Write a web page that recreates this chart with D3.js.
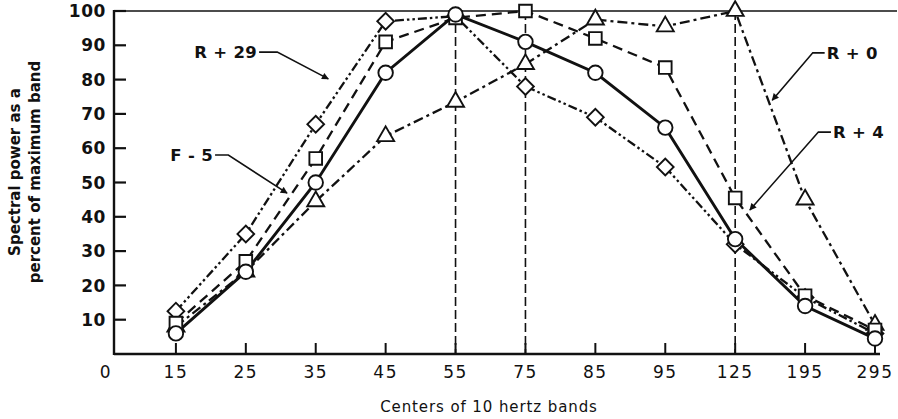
<!DOCTYPE html>
<html><head><meta charset="utf-8">
<script src="https://cdn.jsdelivr.net/npm/d3@7"></script>
<style>
body{margin:0;background:#fff;}
svg{display:block;font-family:"DejaVu Sans",sans-serif;}
</style></head>
<body><svg id="c" width="898" height="419"></svg>
<script>
const categories = ["15","25","35","45","55","75","85","95","125","195","295"];
const xTickLabels = ["0","15","25","35","45","55","75","85","95","125","195","295"];
const yTickValues = [10,20,30,40,50,60,70,80,90,100];
const refLines = ["55","75","125"];
const circleSeries  = [6, 24, 50, 82, 99, 91, 82, 66, 33.5, 14, 4.5];
const squareSeries  = [9, 27, 57, 91, 98, 100, 92, 83.5, 45.5, 17, 7];
const diamondSeries = [12.5, 35, 67, 97, 98.5, 78, 69, 54.5, 32, 16.5, 6];
const triangleSeries= [8, 24, 44.5, 63.5, 73.5, 84.5, 97.5, 95.5, 100, 45, 8.5];
const annotations = [
  {text:"R + 29", anchor:"end",   ti:2.16, tv:88,   pts:[[2.19,88],[2.45,88],[3.18,80.2]]},
  {text:"F - 5",  anchor:"end",   ti:1.53, tv:58,   pts:[[1.56,58],[1.75,58],[2.59,46.9]]},
  {text:"R + 0",  anchor:"start", ti:10.31,tv:87.8, pts:[[10.28,87.8],[10.11,87.8],[9.53,74]]},
  {text:"R + 4",  anchor:"start", ti:10.4, tv:64.7, pts:[[10.37,64.7],[10.19,64.7],[9.21,42]]}
];

const svg = d3.select("#c");
const axisX = 114;
const x = d3.scalePoint().domain(xTickLabels).range([106, 875]);
const y = d3.scaleLinear().domain([0,100]).range([354, 11]);
const xi = i => x.range()[0] + i * x.step();

// frame: top line, y axis, x axis
svg.append("line").attr("x1",axisX).attr("x2",897).attr("y1",y(100)).attr("y2",y(100))
  .attr("stroke","#111").attr("stroke-width",1.5);
svg.append("line").attr("x1",axisX).attr("x2",axisX).attr("y1",y(100)-1).attr("y2",y(0)+1)
  .attr("stroke","#111").attr("stroke-width",2.4);
svg.append("line").attr("x1",axisX).attr("x2",880).attr("y1",y(0)).attr("y2",y(0))
  .attr("stroke","#111").attr("stroke-width",2.4);

// y ticks
const yg = svg.append("g");
yTickValues.forEach(v=>{
  yg.append("line").attr("x1",axisX).attr("x2",axisX+12).attr("y1",y(v)).attr("y2",y(v))
    .attr("stroke","#111").attr("stroke-width",2.2);
  yg.append("text").attr("x",106).attr("y",y(v)).attr("dy","0.36em").attr("text-anchor","end")
    .attr("font-size",17).attr("font-weight","bold").attr("letter-spacing",0.6).attr("fill","#111").text(v);
});
// x ticks
const xg = svg.append("g");
xTickLabels.forEach(c=>{
  if(c!=="0"){
    xg.append("line").attr("x1",x(c)).attr("x2",x(c)).attr("y1",y(0)).attr("y2",y(0)-11)
      .attr("stroke","#111").attr("stroke-width",2);
  }
  xg.append("text").attr("x",x(c)).attr("y",378).attr("text-anchor","middle")
    .attr("font-size",17).attr("letter-spacing",1.5).attr("fill","#111").text(c);
});

// reference dashed vertical lines
refLines.forEach(c=>{
  svg.append("line").attr("x1",x(c)).attr("x2",x(c)).attr("y1",y(100)).attr("y2",y(0))
    .attr("stroke","#111").attr("stroke-width",1.6).attr("stroke-dasharray","9,4");
});

// axis titles
svg.append("text").attr("transform","translate(20,172) rotate(-90)").attr("text-anchor","middle")
  .attr("font-size",15).attr("font-weight","bold").attr("fill","#111").text("Spectral power as a");
svg.append("text").attr("transform","translate(40,172) rotate(-90)").attr("text-anchor","middle")
  .attr("font-size",15).attr("font-weight","bold").attr("fill","#111").text("percent of maximum band");
svg.append("text").attr("x",489).attr("y",412).attr("text-anchor","middle")
  .attr("font-size",15).attr("letter-spacing",0.9).attr("fill","#111").text("Centers of 10 hertz bands");

// series
const series = [
  {vals:triangleSeries, dash:"10,4,3,4", w:2.3, shape:"tri"},
  {vals:diamondSeries,  dash:"9,3,2.5,3,2.5,3", w:2.3, shape:"dia"},
  {vals:squareSeries,   dash:"10,6", w:2.3, shape:"sq"},
  {vals:circleSeries,   dash:null, w:2.9, shape:"cir"}
];
const line = d3.line().x((d,i)=>x(categories[i])).y(d=>y(d));
series.forEach(s=>{
  const p = svg.append("path").datum(s.vals).attr("d",line).attr("fill","none")
    .attr("stroke","#111").attr("stroke-width",s.w);
  if(s.dash) p.attr("stroke-dasharray",s.dash);
});
const symbols = {
  tri: d3.symbol().type(d3.symbolTriangle).size(125),
  dia: d3.symbol().type(d3.symbolSquare).size(140),
  sq:  d3.symbol().type(d3.symbolSquare).size(160),
  cir: d3.symbol().type(d3.symbolCircle).size(165)
};
series.forEach(s=>{
  svg.append("g").selectAll("path").data(s.vals).join("path")
    .attr("d",symbols[s.shape])
    .attr("transform",(d,i)=>`translate(${x(categories[i])},${y(d)})` + (s.shape==="dia"?" rotate(45)":""))
    .attr("fill","#fff").attr("stroke","#111").attr("stroke-width",1.9);
});

// annotations
svg.append("defs").append("marker").attr("id","arr").attr("viewBox","0 0 10 10")
  .attr("refX",9).attr("refY",5).attr("markerWidth",9).attr("markerHeight",7)
  .attr("markerUnits","userSpaceOnUse").attr("orient","auto")
  .append("path").attr("d","M0,0 L10,5 L0,10 Z").attr("fill","#111");
annotations.forEach(a=>{
  svg.append("text").attr("x",xi(a.ti)).attr("y",y(a.tv)).attr("dy","0.36em")
    .attr("text-anchor",a.anchor).attr("font-size",16.5).attr("font-weight","bold").attr("letter-spacing",0.3)
    .attr("fill","#111").text(a.text);
  svg.append("path").attr("d",d3.line()(a.pts.map(p=>[xi(p[0]),y(p[1])])))
    .attr("fill","none").attr("stroke","#111").attr("stroke-width",1.6).attr("marker-end","url(#arr)");
});
</script></body></html>
